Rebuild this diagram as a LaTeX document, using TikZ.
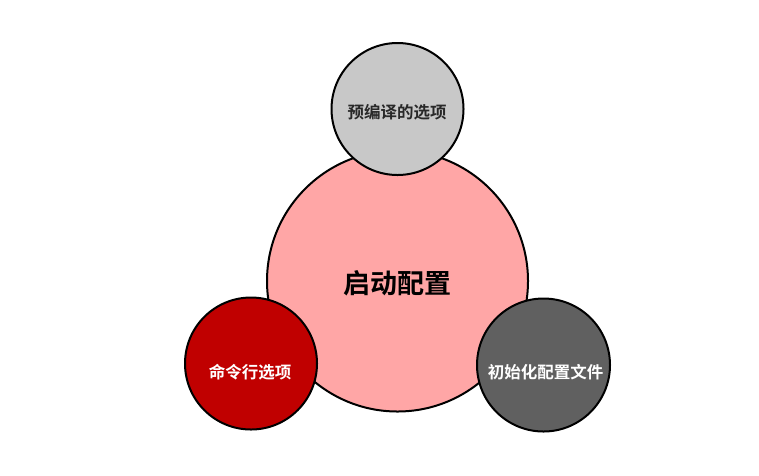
\documentclass[tikz,border=0pt]{standalone}
\usepackage{fontspec}
\setmainfont{Noto Sans CJK SC}
\newfontfamily\cjkb{Noto Sans CJK SC Bold}
\begin{document}
\begin{tikzpicture}[x=1pt,y=-1pt,
  ball/.style={circle,draw=black,line width=2pt,inner sep=0pt},
  lbl/.style={font=\cjkb\fontsize{16.5}{18}\selectfont,inner sep=0pt}]
\useasboundingbox (0,0) rectangle (759,475);
\fill[white] (0,0) rectangle (759,475);
\node[ball,fill={rgb,255:red,255;green,166;blue,166},minimum size=261pt] (core) at (397.5,281) {};
\node[ball,fill={rgb,255:red,200;green,200;blue,200},minimum size=132pt] (pre) at (397.5,109) {};
\node[ball,fill={rgb,255:red,192;green,0;blue,0},minimum size=132pt] (cmd) at (251,363.5) {};
\node[ball,fill={rgb,255:red,96;green,96;blue,96},minimum size=133pt] (ini) at (543.5,365) {};
\node[font=\cjkb\fontsize{27}{29}\selectfont,inner sep=0pt] (coret) at (397.5,283) {启动配置};
\node[lbl,text={rgb,255:red,40;green,40;blue,40}] (pret) at (397,112) {预编译的选项};
\node[lbl,text=white] (cmdt) at (250,372) {命令行选项};
\node[lbl,text=white] (init) at (545.5,372) {初始化配置文件};
\end{tikzpicture}
\end{document}
